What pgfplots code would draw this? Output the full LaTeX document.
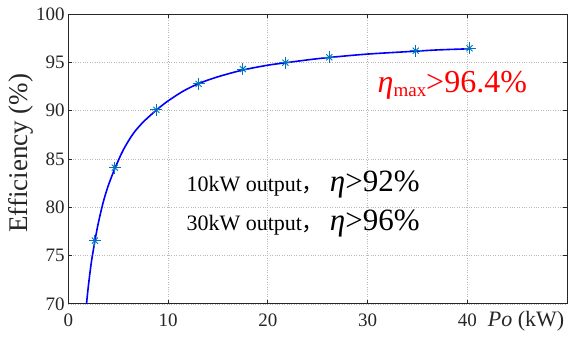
\documentclass[border=0pt]{standalone}
\usepackage{fontspec}
\setmainfont{Liberation Serif}
\newfontfamily\tnr{Liberation Serif}
\newfontfamily\cjk{Noto Sans CJK SC}
\usepackage{pgfplots}
\pgfplotsset{compat=1.18}
\definecolor{mblue}{RGB}{0,114,189}
\definecolor{axgray}{RGB}{38,38,38}
\begin{document}
\begin{tikzpicture}
\begin{axis}[
  scale only axis, width=499pt, height=290pt,
  xmin=0, xmax=50, ymin=70, ymax=100,
  xtick={0,10,20,30,40}, ytick={70,75,...,100},
  grid=major,
  major grid style={dotted, gray!55, line width=0.6pt},
  tick align=inside, major tick length=4pt,
  axis line style={axgray, line width=0.9pt},
  tick style={axgray, line width=0.8pt},
  /pgf/number format/assume math mode=true,
  ticklabel style={font=\tnr\fontsize{19}{22}\selectfont, text=axgray},
  xticklabel style={anchor=base, yshift=-23pt},
  ylabel={Efficiency (\%)},
  ylabel style={font=\tnr\fontsize{27}{30}\selectfont, text=axgray, at={(axis description cs:-0.094,0.52)}, anchor=center},
  xlabel={\textit{Po} (kW)},
  xlabel style={font=\tnr\fontsize{22}{25}\selectfont, text=axgray, at={(axis description cs:0.918,0)}, anchor=base, yshift=-23pt},
  clip=false,
]
\addplot[blue, line width=1.6pt, smooth] coordinates {
(1.83,70.0) (2.0,71.7) (2.3,74.2) (2.67,76.5) (3.0,78.3) (3.5,80.5) (4.0,82.2)
(4.67,84.0) (5.5,85.9) (6.5,87.6) (7.5,88.8) (8.83,90.05) (10,91.0) (11.5,92.0)
(13.07,92.8) (15,93.5) (17.5,94.2) (20,94.7) (21.77,94.95) (24,95.25)
(26.17,95.5) (30,95.85) (34.83,96.15) (37,96.28) (40.23,96.4)
};
\addplot[only marks, mark=+, mark size=6pt, mark options={mblue, line width=0.9pt}] coordinates {
(2.67,76.55) (4.67,84.1) (8.83,90.07) (13.07,92.76) (17.5,94.3) (21.77,94.96) (26.17,95.52) (34.83,96.2) (40.23,96.45)
};
\addplot[only marks, mark=x, mark size=4.3pt, mark options={mblue, line width=0.9pt}] coordinates {
(2.67,76.55) (4.67,84.1) (8.83,90.07) (13.07,92.76) (17.5,94.3) (21.77,94.96) (26.17,95.52) (34.83,96.2) (40.23,96.45)
};
\node[anchor=base west, inner sep=0pt] at (axis cs:11.84,81.6)
  {\tnr\fontsize{22}{26}\selectfont 10kW output{\cjk ，}\hspace{6pt}{\tnr\fontsize{31}{35}\selectfont\textit{η}>92\%}};
\node[anchor=base west, inner sep=0pt] at (axis cs:11.84,77.55)
  {\tnr\fontsize{22}{26}\selectfont 30kW output{\cjk ，}\hspace{6pt}{\tnr\fontsize{31}{35}\selectfont\textit{η}>96\%}};
\node[anchor=base west, inner sep=0pt, text=red] at (axis cs:31.0,91.83)
  {\tnr\fontsize{32}{36}\selectfont\textit{η}\raisebox{-4pt}{\fontsize{19}{21}\selectfont max}>96.4\%};
\end{axis}
\pgfresetboundingbox
\path[use as bounding box] ([xshift=-68.3pt,yshift=-35pt]current axis.south west) rectangle ([xshift=3pt,yshift=14pt]current axis.north east);
\end{tikzpicture}
\end{document}
